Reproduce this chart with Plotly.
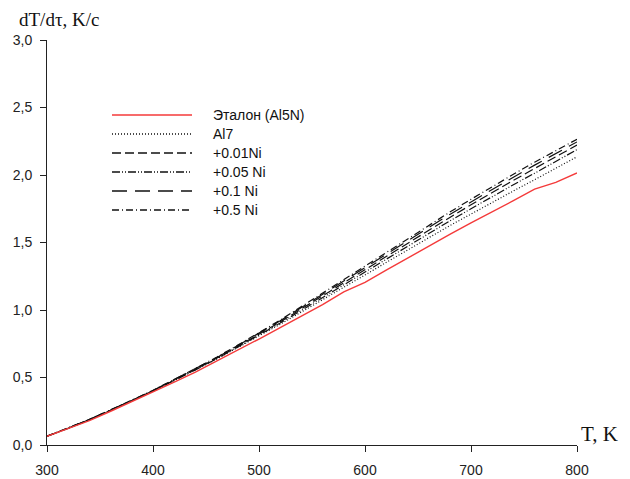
import plotly.graph_objects as go

# Temperature grid, K
temperature = [300, 320, 340, 360, 380, 400, 420, 440, 460, 480, 500, 520, 540,
               560, 580, 600, 620, 640, 660, 680, 700, 720, 740, 760, 780, 800]

# Heating rate dT/dtau, K/s
etalon = [0.065, 0.12, 0.18, 0.25, 0.32, 0.39, 0.465, 0.54, 0.62, 0.70, 0.785, 0.87, 0.955,
          1.04, 1.135, 1.205, 1.295, 1.385, 1.475, 1.56, 1.645, 1.725, 1.81, 1.895, 1.945, 2.015]
al7 = [0.065, 0.124, 0.188, 0.256, 0.327, 0.401, 0.478, 0.556, 0.637, 0.722, 0.807, 0.895, 0.985,
       1.077, 1.172, 1.262, 1.355, 1.447, 1.535, 1.625, 1.712, 1.798, 1.882, 1.965, 2.05, 2.135]
ni_001 = [0.065, 0.125, 0.188, 0.257, 0.328, 0.402, 0.48, 0.56, 0.643, 0.731, 0.82, 0.912, 1.008,
          1.105, 1.207, 1.303, 1.40, 1.497, 1.59, 1.686, 1.779, 1.871, 1.96, 2.048, 2.135, 2.222]
ni_005 = [0.065, 0.123, 0.187, 0.255, 0.326, 0.40, 0.477, 0.556, 0.638, 0.725, 0.812, 0.903, 0.997,
          1.092, 1.19, 1.285, 1.38, 1.475, 1.565, 1.66, 1.75, 1.84, 1.928, 2.013, 2.10, 2.188]
ni_01 = [0.065, 0.124, 0.19, 0.258, 0.33, 0.404, 0.483, 0.563, 0.647, 0.737, 0.826, 0.92, 1.018,
         1.117, 1.22, 1.318, 1.418, 1.515, 1.61, 1.708, 1.802, 1.895, 1.984, 2.073, 2.158, 2.245]
ni_05 = [0.065, 0.125, 0.19, 0.26, 0.33, 0.405, 0.485, 0.565, 0.65, 0.74, 0.83, 0.925, 1.025,
         1.125, 1.23, 1.33, 1.43, 1.53, 1.625, 1.725, 1.82, 1.915, 2.005, 2.095, 2.18, 2.265]

names = ["Эталон (Al5N)", "Al7", "+0.01Ni", "+0.05 Ni", "+0.1 Ni", "+0.5 Ni"]
series = [etalon, al7, ni_001, ni_005, ni_01, ni_05]
colors = ["#f43a3a", "#111111", "#111111", "#111111", "#111111", "#111111"]
dashes = ["solid", "1px,2px", "9px,4px", "8px,2px,1px,2px,1px,2px", "15px,8px", "7px,3px,1px,3px"]
widths = [1.4, 1.2, 1.2, 1.2, 1.2, 1.2]

# plot area in pixels
L, R, T, B = 47, 577, 40, 445
W, H = 630, 479


def px(x):
    return (x - L) / (R - L)


def py(y):
    return (B - y) / (B - T)


fig = go.Figure()
# black curves first, reference (red) on top
order = [1, 2, 3, 4, 5, 0]
for i in order:
    fig.add_trace(go.Scatter(
        x=temperature, y=series[i], mode="lines", name=names[i],
        line=dict(color=colors[i], width=widths[i], dash=dashes[i]),
        showlegend=False,
    ))

# legend with long line samples
row_y = [115, 134, 153, 172, 191, 210]
shapes = []
annotations = []
for k in range(len(names)):
    shapes.append(dict(
        type="line", xref="paper", yref="paper",
        x0=px(112), x1=px(192), y0=py(row_y[k]), y1=py(row_y[k]),
        line=dict(color=colors[k], width=1.3, dash=dashes[k]),
    ))
    annotations.append(dict(
        xref="paper", yref="paper", x=px(211), y=py(row_y[k]),
        xanchor="left", yanchor="middle", showarrow=False, text=names[k],
        font=dict(family="Liberation Sans, Arial", size=14, color="#111111"),
    ))

# axis titles
annotations.append(dict(
    xref="paper", yref="paper", x=px(17), y=py(19), xanchor="left", yanchor="middle",
    showarrow=False, text="dT/dτ, K/c",
    font=dict(family="Liberation Serif, Times New Roman", size=19, color="#111111"),
))
annotations.append(dict(
    xref="paper", yref="paper", x=px(579), y=py(434), xanchor="left", yanchor="middle",
    showarrow=False, text="T, K",
    font=dict(family="Liberation Serif, Times New Roman", size=21, color="#111111"),
))

fig.update_layout(
    width=W, height=H,
    margin=dict(l=L, r=W - R, t=T, b=H - B, autoexpand=False),
    paper_bgcolor="white", plot_bgcolor="white",
    separators=", ",
    showlegend=False,
    shapes=shapes,
    annotations=annotations,
    font=dict(family="Liberation Sans, Arial", size=14, color="#222222"),
)
fig.update_xaxes(
    range=[300, 800], tickvals=[300, 400, 500, 600, 700, 800], automargin=False,
    showgrid=False, zeroline=False, showline=True, linecolor="#222222", linewidth=1,
    ticks="outside", ticklen=6, tickcolor="#222222", tickwidth=1,
    ticklabelstandoff=6,
    tickfont=dict(family="Liberation Sans, Arial", size=14, color="#222222"),
)
fig.update_yaxes(
    range=[0, 3], tickvals=[0, 0.5, 1.0, 1.5, 2.0, 2.5, 3.0], tickformat=".1f", automargin=False,
    showgrid=False, zeroline=False, showline=True, linecolor="#222222", linewidth=1,
    ticks="outside", ticklen=6, tickcolor="#222222", tickwidth=1,
    ticklabelstandoff=5,
    tickfont=dict(family="Liberation Sans, Arial", size=14, color="#222222"),
)

fig.write_html("out.html")
